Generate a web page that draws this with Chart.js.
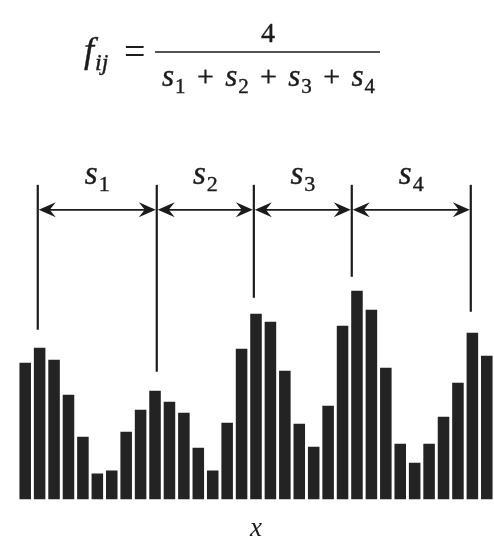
<!DOCTYPE html>
<html>
<head>
<meta charset="utf-8">
<script src="https://cdn.jsdelivr.net/npm/chart.js@4"></script>
<style>
  html, body { margin: 0; padding: 0; background: #fff; }
  #wrap { width: 494px; height: 545px; }
</style>
</head>
<body>
<div id="wrap"><canvas id="chart"></canvas></div>
<script>
// bar heights along x (33 samples)
const categories = Array.from({ length: 33 }, (_, i) => String(i + 1));
const heights = [137, 152, 140, 105, 63, 26, 29, 68, 90, 109, 98, 87, 52, 29, 77, 151,
                 186, 178, 129, 76, 53, 94, 174, 209, 190, 132, 56, 37, 56, 83, 117, 167, 144];

// peak markers: position (in bar index units) and where each line stops above the bar
const markerPos = [0.87, 9.12, 15.85, 22.64, 30.89];
const markerEnd = [170, 128, 202, 223, 188];
const markerTop = 315;
const arrowLevel = 290;
const spanLabels = ['1', '2', '3', '4'];

const ink = '#1b1b1b';
const SERIF = '"Liberation Serif", serif';

function drawRuns(ctx, runs, x, baseline, extraGap) {
    // runs: [{t, font, dy, gap, spread}] drawn left to right starting at x
    let cx = x;
    runs.forEach(r => {
        ctx.font = r.font;
        cx += (r.gap || 0) + (r.spread ? (extraGap || 0) : 0);
        ctx.fillText(r.t, cx, baseline + (r.dy || 0));
        ctx.strokeText(r.t, cx, baseline + (r.dy || 0));
        cx += ctx.measureText(r.t).width;
    });
    return cx;
}

function runsWidth(ctx, runs) {
    let w = 0;
    runs.forEach(r => {
        ctx.font = r.font;
        w += (r.gap || 0) + ctx.measureText(r.t).width;
    });
    return w;
}

function arrowHead(ctx, tipX, y, dir) {
    // dir = +1 points right, -1 points left
    ctx.beginPath();
    ctx.moveTo(tipX, y);
    ctx.lineTo(tipX - dir * 17, y - 7.5);
    ctx.lineTo(tipX - dir * 11, y);
    ctx.lineTo(tipX - dir * 17, y + 7.5);
    ctx.closePath();
    ctx.fill();
}

const annotations = {
    id: 'annotations',
    afterDatasetsDraw(chart) {
        const ctx = chart.ctx;
        const xs = chart.scales.x;
        const ys = chart.scales.y;
        ctx.save();
        ctx.fillStyle = ink;
        ctx.strokeStyle = ink;
        ctx.textBaseline = 'alphabetic';
        ctx.textAlign = 'left';

        // vertical marker lines
        ctx.lineWidth = 2.2;
        const px = markerPos.map(p => xs.getPixelForValue(p));
        px.forEach((x, i) => {
            ctx.beginPath();
            ctx.moveTo(x, ys.getPixelForValue(markerTop));
            ctx.lineTo(x, ys.getPixelForValue(markerEnd[i]));
            ctx.stroke();
        });

        // double arrows + span labels
        const ay = ys.getPixelForValue(arrowLevel);
        for (let i = 0; i < px.length - 1; i++) {
            const a = px[i] + 1, b = px[i + 1] - 1;
            ctx.lineWidth = 1.6;
            ctx.beginPath();
            ctx.moveTo(a + 10, ay);
            ctx.lineTo(b - 10, ay);
            ctx.stroke();
            arrowHead(ctx, a, ay, -1);
            arrowHead(ctx, b, ay, 1);

            ctx.lineWidth = 0.4;
            const runs = [
                { t: 's', font: 'italic 33px ' + SERIF },
                { t: spanLabels[i], font: '22px ' + SERIF, dy: 7, gap: 1 }
            ];
            const w = runsWidth(ctx, runs);
            drawRuns(ctx, runs, (a + b) / 2 - w / 2, ys.getPixelForValue(316));
        }

        // formula f_ij = 4 / (s1 + s2 + s3 + s4)
        ctx.lineWidth = 0.4;
        drawRuns(ctx, [
            { t: 'f', font: 'italic 36px ' + SERIF },
            { t: 'ij', font: 'italic 24px ' + SERIF, dy: 8, gap: 1 }
        ], 84, 62);
        ctx.font = '38px ' + SERIF;
        ctx.fillText('=', 124, 64);

        ctx.lineWidth = 1.6;
        ctx.beginPath();
        ctx.moveTo(155, 52);
        ctx.lineTo(380, 52);
        ctx.stroke();

        ctx.lineWidth = 0.4;
        ctx.font = '28px ' + SERIF;
        ctx.textAlign = 'center';
        ctx.fillText('4', 268, 42);
        ctx.strokeText('4', 268, 42);
        ctx.textAlign = 'left';

        const den = [];
        spanLabels.forEach((n, i) => {
            if (i > 0) den.push({ t: '+', font: '30px ' + SERIF, gap: 4, spread: true });
            den.push({ t: 's', font: 'italic 31px ' + SERIF, gap: i > 0 ? 4 : 0, spread: i > 0 });
            den.push({ t: n, font: '21px ' + SERIF, dy: 7, gap: 1 });
        });
        // spread the gaps around the plus signs so the denominator spans 162..375
        const dw = runsWidth(ctx, den);
        const extra = Math.max(0, (213 - dw) / 6);
        drawRuns(ctx, den, 162, 86, extra);

        ctx.restore();
    }
};

new Chart(document.getElementById('chart'), {
    type: 'bar',
    data: {
        labels: categories,
        datasets: [{
            data: heights,
            backgroundColor: '#232323',
            borderWidth: 0,
            categoryPercentage: 1.0,
            barPercentage: 0.8
        }]
    },
    options: {
        responsive: true,
        maintainAspectRatio: false,
        animation: false,
        layout: { padding: { left: 18, right: 0, top: 0, bottom: 0 } },
        plugins: {
            legend: { display: false },
            tooltip: { enabled: false }
        },
        scales: {
            x: {
                grid: { display: false },
                border: { display: false },
                ticks: { display: false },
                title: {
                    display: true,
                    text: 'x',
                    color: ink,
                    font: { family: '"Liberation Serif", serif', style: 'italic', size: 27, lineHeight: 1.2 },
                    padding: { top: 5, bottom: 0 }
                }
            },
            y: {
                display: false,
                min: 0,
                max: 500
            }
        }
    },
    plugins: [annotations]
});
</script>
</body>
</html>
